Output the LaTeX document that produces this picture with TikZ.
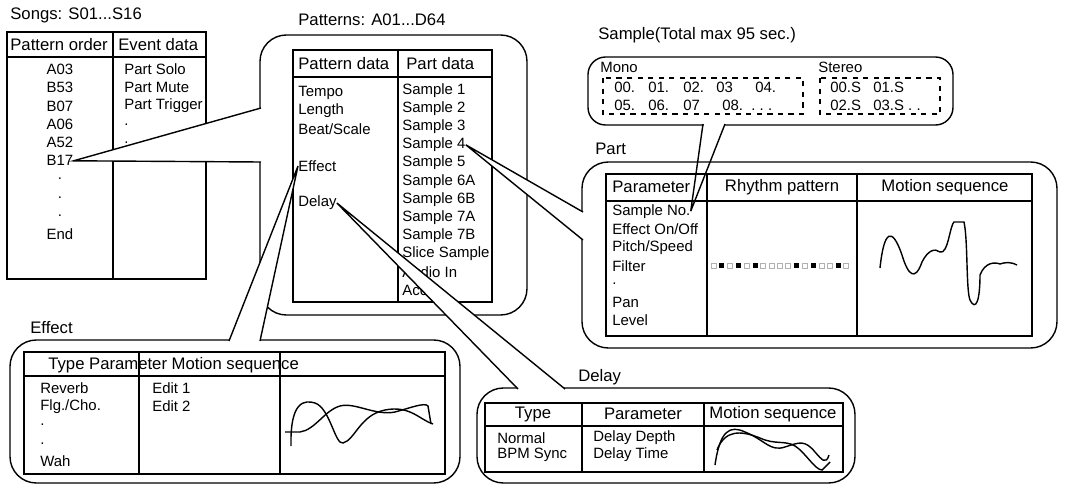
\documentclass[tikz,border=0pt]{standalone}
\usepackage{fontspec}
\setmainfont{Liberation Sans}
\usetikzlibrary{positioning}
\tikzset{
  txt/.style={anchor=west, inner sep=0pt, font=\fontsize{8.5}{10}\selectfont},
  hdr/.style={inner sep=0pt, font=\fontsize{9.5}{11}\selectfont},
  ttl/.style={anchor=west, inner sep=0pt, font=\fontsize{9.5}{11}\selectfont},
  bubble/.style={draw, thick, rounded corners=15pt, fill=white},
  tbl/.style={draw, thick},
  tail/.style={draw, thick, fill=white},
  wave/.style={thick},
}
\begin{document}
\begin{tikzpicture}[x=0.02cm, y=-0.02cm]
\useasboundingbox (0,0) rectangle (1073,487);

% songs
\node[ttl] (songs) at (10,15) {Songs: S01...S16};
\draw[tbl] (7,32) rectangle (206,279);
\draw[tbl] (7,57) -- (206,57) (113,32) -- (113,279);
\node[hdr, anchor=west] (porder) at (10,45) {Pattern order};
\node[hdr, anchor=west] (edata) at (118,45) {Event data};
\foreach \t [count=\i] in {A03,B53,B07,A06,A52,B17,.,.,.,End}
  \node[txt, anchor=center] (s\i) at (60,51+18.3*\i) {\t};
\foreach \t [count=\i] in {Part Solo,Part Mute,Part Trigger,.,.}
  \node[txt] (e\i) at (124,51+18.3*\i) {\t};

% patterns
\node[ttl] (patterns) at (298,20) {Patterns: A01...D64};
\draw[bubble] (260,35) rectangle (527,315);
\draw[tbl] (293,50) rectangle (492,302);
\draw[tbl] (293,77) -- (492,77) (398,50) -- (398,302);
\node[hdr, anchor=west] (pdata) at (298,64) {Pattern data};
\node[hdr, anchor=west] (partdata) at (406,64) {Part data};
\node[txt] (tempo) at (298,93) {Tempo};
\node[txt] (length) at (298,111) {Length};
\node[txt] (beat) at (298,129) {Beat/Scale};
\node[txt] (effect) at (298,166) {Effect};
\node[txt] (delay) at (298,203) {Delay};
\foreach \t [count=\i] in {Sample 1,Sample 2,Sample 3,Sample 4,Sample 5,Sample 6A,Sample 6B,Sample 7A,Sample 7B,Slice Sample,Audio In,Accel}
  \node[txt] (p\i) at (402,72+18.2*\i) {\t};

% sample
\node[ttl] (sample) at (598,35) {Sample(Total max 95 sec.)};
\draw[thick, rounded corners=10pt, fill=white] (588,57) rectangle (953,125);
\node[txt] (mono) at (600,67) {Mono};
\node[txt] (stereo) at (818,67) {Stereo};
\draw[thick, dashed] (603,78) rectangle (803,114) (820,78) rectangle (940,114);
\foreach \t/\x [count=\i] in {00./614,01./648,02./683,03/716,04./755}
  \node[txt] (m\i) at (\x,87) {\t};
\foreach \t/\x [count=\i] in {05./614,06./648,07/683,08.\ \ .\ .\ ./722}
  \node[txt] (n\i) at (\x,105) {\t};
\node[txt] (st1) at (830,87) {00.S};
\node[txt] (st2) at (873,87) {01.S};
\node[txt] (st3) at (830,105) {02.S};
\node[txt] (st4) at (873,105) {03.S\ .\ .};

% part
\node[ttl] (part) at (595,149) {Part};
\draw[bubble] (582,162) rectangle (1057,348);
\draw[tbl] (606,174) rectangle (1032,336);
\draw[tbl] (606,201) -- (1032,201) (707,174) -- (707,336) (857,174) -- (857,336);
\node[hdr, anchor=west] (param) at (612,187) {Parameter};
\node[hdr] (rhythm) at (782,187) {Rhythm pattern};
\node[hdr] (motion) at (945,187) {Motion sequence};
\foreach \t [count=\i] in {Sample No.,Effect On/Off,Pitch/Speed,Filter,.,Pan,Level}
  \node[txt] (q\i) at (612,193+18.2*\i) {\t};
\foreach \i/\f in {0/0,1/1,2/0,3/1,4/0,5/1,6/0,7/0,8/0,9/0,10/1,11/0,12/1,13/0,14/0,15/1,16/0}{
  \ifnum\f=1 \fill (711+8.3*\i,263) rectangle +(5,5);
  \else \draw[gray!60] (711+8.3*\i,263) rectangle +(5,5); \fi
}
\draw[wave] (880,268) .. controls (884,230) and (892,226) .. (902,255)
  .. controls (908,275) and (915,282) .. (922,262)
  .. controls (928,250) and (935,248) .. (940,252)
  .. controls (948,255) and (950,225) .. (954,222)
  -- (964,222) .. controls (968,240) and (966,290) .. (970,300)
  .. controls (976,312) and (980,300) .. (980,275)
  .. controls (985,262) and (995,262) .. (1000,264)
  .. controls (1005,262) and (1012,262) .. (1017,265);

% effect
\node[ttl] (efx) at (30,328) {Effect};
\draw[bubble] (10,340) rectangle (460,483);
\draw[tbl] (24,352) rectangle (445,474);
\draw[tbl] (24,376) -- (445,376) (139,352) -- (139,474) (280,352) -- (280,474);
\node[hdr, anchor=west] (efxhdr) at (48,365) {Type Parameter Motion sequence};
\foreach \t [count=\i] in {Reverb,Flg./Cho.,.,.,Wah}
  \node[txt] (f\i) at (40,370+18.3*\i) {\t};
\node[txt] (edit1) at (152,388) {Edit 1};
\node[txt] (edit2) at (152,406) {Edit 2};
\draw[wave] (291,446) .. controls (290,400) and (305,400) .. (315,403)
  .. controls (330,408) and (335,445) .. (343,443)
  .. controls (355,440) and (360,415) .. (385,410)
  .. controls (410,405) and (420,420) .. (433,424);
\draw[wave] (285,432) -- (300,432) .. controls (315,430) and (325,410) .. (340,406)
  .. controls (355,402) and (375,416) .. (395,412)
  .. controls (410,408) and (425,402) .. (428,406) -- (431,424);

% delay
\node[ttl] (dly) at (578,377) {Delay};
\draw[bubble] (477,388) rectangle (855,483);
\draw[tbl] (485,403) rectangle (843,472);
\draw[tbl] (485,426) -- (843,426) (582,403) -- (582,472) (704,403) -- (704,472);
\node[hdr] (dtype) at (533,414) {Type};
\node[hdr] (dparam) at (643,414) {Parameter};
\node[hdr] (dmotion) at (773,414) {Motion sequence};
\node[txt] (normal) at (497,438) {Normal};
\node[txt] (bpm) at (497,455) {BPM Sync};
\node[txt] (depth) at (593,438) {Delay Depth};
\node[txt] (dtime) at (593,455) {Delay Time};
\draw[wave] (715,465) .. controls (720,430) and (730,425) .. (745,432)
  .. controls (765,440) and (770,452) .. (785,447)
  .. controls (800,442) and (805,440) .. (815,452) .. controls (822,460) and (826,465) .. (829,455);
\draw[wave] (717,450) .. controls (725,430) and (740,430) .. (760,438)
  .. controls (775,445) and (785,440) .. (795,446)
  .. controls (805,452) and (815,470) .. (822,470) -- (830,462);

% tails
\coordinate (t1a) at (261,108); \coordinate (t1b) at (261,162);
\filldraw[tail] (t1a) -- (s6.east) -- (t1b);
\coordinate (t2a) at (260,341); \coordinate (t2b) at (229,341);
\filldraw[tail] (t2a) -- (effect.west) -- (t2b);
\coordinate (t3a) at (565,389); \coordinate (t3b) at (518,389);
\filldraw[tail] (t3a) -- (delay.east) -- (t3b);
\coordinate (t4a) at (583,212); \coordinate (t4b) at (583,240);
\filldraw[tail] (t4a) -- (p4.east) -- (t4b);
\coordinate (t5a) at (703,124); \coordinate (t5b) at (725,124);
\fill[white] (704,123) rectangle (724,127);
\draw[thick] (t5a) -- (q1.east) (t5b) -- (q1.east);
\end{tikzpicture}
\end{document}
